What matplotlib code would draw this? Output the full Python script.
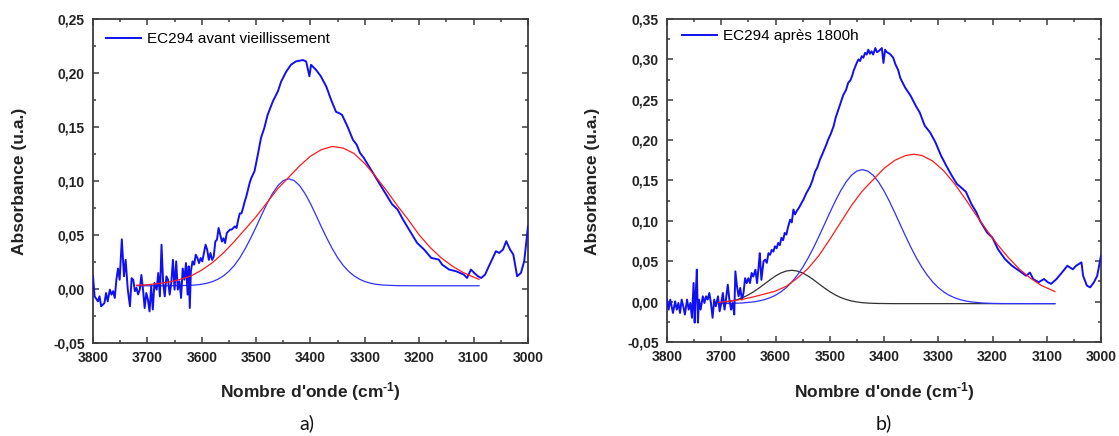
import matplotlib
matplotlib.use("Agg")
import matplotlib.pyplot as plt
from matplotlib.ticker import MultipleLocator, FuncFormatter

plt.rcParams['font.family'] = ['Liberation Sans', 'DejaVu Sans']
plt.rcParams['mathtext.fontset'] = 'custom'
plt.rcParams['mathtext.rm'] = 'Liberation Sans:bold'
plt.rcParams['mathtext.it'] = 'Liberation Sans:bold'
plt.rcParams['mathtext.bf'] = 'Liberation Sans:bold'

# ---------------- Data: panel a) ----------------
a_wn = [3800, 3797, 3791, 3788, 3785, 3779, 3776, 3773, 3769, 3766, 3763, 3760, 3757, 3754, 3751,
        3747, 3743, 3740, 3736, 3732, 3729, 3726, 3723, 3720, 3717, 3714, 3711, 3708, 3705, 3702,
        3699, 3696, 3693, 3690, 3687, 3683, 3680, 3677, 3674, 3671, 3668, 3665, 3662, 3659, 3656,
        3653, 3650, 3647, 3644, 3641, 3638, 3635, 3632, 3629, 3626, 3624, 3622, 3620, 3617, 3614,
        3611, 3608, 3605, 3602, 3599, 3596, 3593, 3590, 3587, 3584, 3581, 3578, 3575, 3572, 3569,
        3566, 3563, 3560, 3557, 3554, 3551, 3548, 3545, 3539, 3536, 3533, 3530, 3527, 3524, 3521,
        3518, 3515, 3512, 3509, 3503, 3497, 3491, 3485, 3479, 3469, 3460, 3454, 3445, 3436, 3427,
        3414, 3408, 3402, 3399, 3390, 3381, 3371, 3362, 3353, 3348,
        3342, 3332, 3322, 3315, 3309, 3302, 3289, 3276, 3263, 3250, 3240, 3230, 3217, 3204, 3191,
        3178, 3164, 3158, 3145, 3132, 3118, 3112, 3105, 3099, 3092, 3086, 3079, 3072, 3059, 3053,
        3046, 3040, 3033, 3027, 3020, 3013, 3007, 3000]
a_abs = [0.0117, -0.0068, -0.0114, -0.0068, -0.016, -0.013, -0.0037, -0.0114, -0.0006, -0.0052,
         -0.002, -0.0083, 0.0086, 0.019, 0.0086, 0.046, 0.0117, 0.027, -0.0006, -0.016,
         0.010, 0.0086, -0.002, 0.001, -0.005, -0.0006, 0.013, -0.0006, -0.0176, -0.0037,
         -0.0099, -0.0207, 0.0025, -0.019, 0.0056, -0.0006, 0.0148, -0.0068, 0.041, 0.0056,
         -0.0068, 0.0117, 0.0086, -0.0052, 0.0056, 0.027, -0.0006, 0.0256, -0.0006, 0.0071,
         -0.0083, 0.019, 0.0086, 0.024, -0.0052, 0.021, -0.0176, 0.0164, 0.0256, 0.0225,
         0.0318, 0.0287, 0.024, 0.0287, 0.0256, 0.0333, 0.041, 0.0364, 0.027, 0.0333,
         0.027, 0.030, 0.044, 0.0457, 0.0565, 0.0503, 0.044, 0.047, 0.0426, 0.0518,
         0.0534, 0.055, 0.055, 0.058, 0.0565, 0.064, 0.070, 0.070, 0.075, 0.081,
         0.0858, 0.092, 0.098, 0.1026, 0.109, 0.124, 0.140, 0.149, 0.161, 0.174,
         0.183, 0.192, 0.201, 0.2076, 0.2107, 0.212, 0.2107, 0.197, 0.2076, 0.203,
         0.197, 0.1875, 0.175, 0.164, 0.163,
         0.1612, 0.1505, 0.1382, 0.1336, 0.126, 0.1214, 0.1107, 0.100, 0.0893, 0.0785,
         0.0737, 0.0644, 0.0536, 0.0427, 0.0365, 0.0288, 0.0272, 0.0226, 0.018, 0.0164,
         0.0133, 0.0102, 0.018, 0.0149, 0.0118, 0.0102, 0.0133, 0.021, 0.035, 0.0334,
         0.0365, 0.0443, 0.0365, 0.0319, 0.0118, 0.0149, 0.0257, 0.058]

a_fit1_wn = [3720, 3690, 3660, 3640, 3630, 3620, 3610, 3600, 3590, 3580, 3570, 3560, 3550, 3540,
             3530, 3520, 3510, 3500, 3490, 3480, 3470, 3460, 3450, 3440, 3430, 3420, 3410, 3400,
             3390, 3380, 3370, 3360, 3350, 3340, 3330, 3320, 3310, 3300, 3290, 3280, 3270, 3260,
             3250, 3240, 3210, 3180, 3150, 3120, 3090]
a_fit1 = [0.0030, 0.0030, 0.0030, 0.0031, 0.0033, 0.0035, 0.0038, 0.0044, 0.0054, 0.0069, 0.0091,
          0.0122, 0.0164, 0.0219, 0.0289, 0.0374, 0.0471, 0.0575, 0.0685, 0.0790, 0.0883, 0.0957,
          0.1004, 0.1020, 0.1004, 0.0957, 0.0883, 0.0790, 0.0685, 0.0575, 0.0471, 0.0374, 0.0289,
          0.0219, 0.0164, 0.0122, 0.0091, 0.0069, 0.0054, 0.0044, 0.0038, 0.0035, 0.0033, 0.0031,
          0.0030, 0.0030, 0.0030, 0.0030, 0.0030]

a_fit2_wn = [3720, 3700, 3680, 3660, 3640, 3620, 3600, 3580, 3560, 3540, 3520, 3500, 3480, 3460,
             3440, 3420, 3400, 3380, 3360, 3340, 3320, 3300, 3280, 3260, 3240, 3220, 3200, 3180,
             3160, 3140, 3120, 3100, 3090]
a_fit2 = [0.0035, 0.0040, 0.0050, 0.0065, 0.0088, 0.0120, 0.0175, 0.0245, 0.0335, 0.0440, 0.0555,
          0.0670, 0.0800, 0.0930, 0.1035, 0.1140, 0.1230, 0.1290, 0.1320, 0.1305, 0.1255, 0.1160,
          0.1040, 0.0910, 0.0770, 0.0640, 0.0500, 0.0385, 0.0290, 0.0215, 0.0155, 0.0110, 0.0090]

# ---------------- Data: panel b) ----------------
b_wn = [3800, 3797, 3794, 3789, 3785, 3782, 3779, 3776, 3773, 3770, 3767, 3763, 3760, 3757, 3754,
        3751, 3749, 3747, 3745, 3743, 3741, 3738, 3734, 3731, 3728, 3725, 3722, 3719, 3716, 3713,
        3710, 3706, 3703, 3700, 3697, 3694, 3691, 3688, 3685, 3682, 3679, 3676, 3674, 3671, 3668,
        3665, 3662, 3659, 3656, 3653, 3650, 3647, 3644, 3641, 3637, 3634, 3631, 3629, 3626, 3622,
        3619, 3616, 3613, 3610, 3607, 3604, 3601, 3598, 3595, 3592, 3589, 3586, 3583, 3580, 3577,
        3573, 3570, 3567, 3564, 3561, 3557, 3552, 3548, 3543, 3540, 3536, 3532, 3527, 3523, 3518,
        3514, 3509, 3506, 3503, 3498, 3493, 3489, 3484, 3480, 3475, 3470, 3466, 3462, 3459, 3456,
        3453, 3450, 3447, 3444, 3441, 3438, 3435, 3432, 3429, 3426, 3423, 3420, 3416, 3413, 3410,
        3407, 3404, 3401, 3398, 3395, 3392, 3388, 3383, 3379, 3374, 3370, 3361, 3351, 3341, 3334,
        3325, 3315, 3305, 3295, 3285, 3275, 3266, 3259, 3249, 3239, 3230, 3223, 3210, 3200, 3190,
        3177, 3164, 3151, 3138, 3131, 3125, 3115, 3105, 3098, 3092, 3082, 3072, 3062, 3052, 3046,
        3036, 3033, 3026, 3020, 3013, 3007, 3000]
b_abs = [0.0025, -0.0099, 0.0025, -0.014, 0.0004, -0.0099, -0.0017, -0.014, 0.0025, -0.0058,
         -0.016, 0.0025, -0.0099, -0.0017, -0.020, 0.0231, -0.026, 0.0107, 0.0396, -0.026,
         0.0025, -0.0099, 0.0066, -0.0017, 0.0066, 0.0025, 0.0107, -0.0017, -0.020, 0.0025,
         -0.0058, 0.0066, -0.012, -0.0017, 0.0107, -0.0099, 0.0045, 0.021, 0.0025, -0.0099,
         -0.0017, -0.016, 0.0375, 0.019, 0.0066, 0.017, 0.0025, 0.0107, 0.029, 0.023,
         0.029, 0.023, 0.0355, 0.031, 0.0396, 0.023, 0.044, 0.060, 0.027, 0.050,
         0.052, 0.048, 0.060, 0.058, 0.064, 0.062, 0.0685, 0.066, 0.0727, 0.070,
         0.079, 0.076, 0.085, 0.083, 0.092, 0.1015, 0.098, 0.114, 0.108, 0.112,
         0.116, 0.122, 0.127, 0.1346, 0.138, 0.143, 0.150, 0.161, 0.166, 0.176,
         0.182, 0.190, 0.195, 0.2006, 0.208, 0.217, 0.228, 0.238, 0.246, 0.256,
         0.262, 0.271, 0.274, 0.279, 0.286, 0.291, 0.296, 0.300, 0.298, 0.304,
         0.302, 0.308, 0.306, 0.312, 0.307, 0.310, 0.306, 0.314, 0.309, 0.310,
         0.312, 0.314, 0.2956, 0.312, 0.309, 0.308, 0.306, 0.302, 0.294, 0.287,
         0.277, 0.265, 0.255, 0.242, 0.234, 0.218, 0.2095, 0.197, 0.181, 0.168,
         0.156, 0.146, 0.142, 0.136, 0.121, 0.111, 0.100, 0.0856, 0.079, 0.065,
         0.0527, 0.0444, 0.0383, 0.032, 0.036, 0.028, 0.024, 0.028, 0.024, 0.022,
         0.028, 0.036, 0.0444, 0.040, 0.0444, 0.0486, 0.032, 0.0198, 0.0177, 0.024,
         0.032, 0.0568]

b_fit0_wn = [3705, 3690, 3680, 3670, 3660, 3650, 3640, 3630, 3620, 3610, 3600, 3590, 3580, 3570,
             3560, 3550, 3540, 3530, 3520, 3510, 3500, 3490, 3480, 3470, 3460, 3450, 3440, 3430,
             3420, 3410, 3380, 3300, 3200, 3085]
b_fit0 = [-0.0016, -0.0004, 0.0008, 0.0027, 0.0051, 0.0084, 0.0124, 0.0170, 0.0220, 0.0271, 0.0317,
          0.0355, 0.0379, 0.0388, 0.0379, 0.0355, 0.0317, 0.0271, 0.0220, 0.0170, 0.0124, 0.0084,
          0.0051, 0.0027, 0.0008, -0.0004, -0.0013, -0.0018, -0.0021, -0.0023, -0.0025, -0.0025,
          -0.0025, -0.0025]

b_fit1_wn = [3705, 3680, 3660, 3640, 3630, 3620, 3610, 3600, 3590, 3580, 3570, 3560, 3550, 3540,
             3530, 3520, 3510, 3500, 3490, 3480, 3470, 3460, 3450, 3440, 3430, 3420, 3410, 3400,
             3390, 3380, 3370, 3360, 3350, 3340, 3330, 3320, 3310, 3300, 3290, 3280, 3270, 3260,
             3250, 3240, 3220, 3200, 3180, 3085]
b_fit1 = [-0.0025, -0.0022, -0.0016, -0.0003, 0.0009, 0.0025, 0.0048, 0.0079, 0.0121, 0.0174,
          0.0242, 0.0325, 0.0423, 0.0538, 0.0667, 0.0807, 0.0953, 0.1100, 0.1242, 0.1371, 0.1481,
          0.1565, 0.1617, 0.1635, 0.1617, 0.1565, 0.1481, 0.1371, 0.1242, 0.1100, 0.0953, 0.0807,
          0.0667, 0.0538, 0.0423, 0.0325, 0.0242, 0.0174, 0.0121, 0.0079, 0.0048, 0.0025, 0.0009,
          -0.0003, -0.0016, -0.0022, -0.0024, -0.0025]

b_fit2_wn = [3705, 3680, 3660, 3640, 3620, 3600, 3580, 3560, 3540, 3520, 3500, 3480, 3460, 3440,
             3420, 3400, 3380, 3360, 3345, 3330, 3310, 3290, 3270, 3250, 3230, 3210, 3190, 3170,
             3150, 3130, 3110, 3090, 3085]
b_fit2 = [-0.0010, 0.0010, 0.0030, 0.0060, 0.0095, 0.0130, 0.0190, 0.0290, 0.0410, 0.0570, 0.0770,
          0.0980, 0.1190, 0.1370, 0.1510, 0.1650, 0.1750, 0.1810, 0.1825, 0.1810, 0.1740, 0.1620,
          0.1460, 0.1270, 0.1070, 0.0880, 0.0700, 0.0540, 0.0400, 0.0290, 0.0200, 0.0140, 0.0125]

a_legend = "EC294 avant vieillissement"
b_legend = "EC294 après 1800h"
xlabel = r"Nombre d'onde (cm$^{\text{-1}}$)"
ylabel = "Absorbance (u.a.)"

# ---------------- Figure ----------------
W, H = 1119, 436
fig = plt.figure(figsize=(W / 100, H / 100), dpi=100)

def px_axes(x0, x1, y0, y1):
    return fig.add_axes([x0 / W, 1 - y1 / H, (x1 - x0) / W, (y1 - y0) / H])

axA = px_axes(93, 528, 19, 343)
axB = px_axes(667, 1101, 19, 342)

SPEC = '#1010f2'
FITB = '#3030ff'
RED = '#ff1a1a'
BLK = '#303030'
SP = '#3c3c3c'

comma = FuncFormatter(lambda v, p: ("%.2f" % v).replace('.', ',').replace('-0,00', '0,00'))

def style(ax, ymin, ymax):
    ax.set_xlim(3800, 3000)
    ax.set_ylim(ymin, ymax)
    ax.xaxis.set_major_locator(MultipleLocator(100))
    ax.xaxis.set_minor_locator(MultipleLocator(50))
    ax.yaxis.set_major_locator(MultipleLocator(0.05))
    ax.yaxis.set_minor_locator(MultipleLocator(0.025))
    ax.yaxis.set_major_formatter(comma)
    for s in ax.spines.values():
        s.set_color(SP)
        s.set_linewidth(1.3)
    ax.tick_params(which='both', direction='in', top=True, right=True, color=SP, width=1.1)
    ax.tick_params(which='major', length=4.5)
    ax.tick_params(which='minor', length=2.5)
    ax.tick_params(axis='x', which='major', pad=6, labelsize=10, labelcolor='#222222')
    ax.tick_params(axis='y', which='major', pad=6, labelsize=10, labelcolor='#222222')
    for lab in ax.get_xticklabels() + ax.get_yticklabels():
        lab.set_fontweight('bold')

# Panel a
lA, = axA.plot(a_wn, a_abs, color=SPEC, lw=1.4, label=a_legend, zorder=3)
axA.plot(a_fit1_wn, a_fit1, color=FITB, lw=0.9, zorder=2)
axA.plot(a_fit2_wn, a_fit2, color=RED, lw=0.9, zorder=4)
style(axA, -0.05, 0.25)
axA.legend(handles=[lA], loc='center left', bbox_to_anchor=(0.03, 0.937), frameon=False,
           borderpad=0, borderaxespad=0, handlelength=2.3, handletextpad=0.4,
           prop={'family': 'Liberation Sans', 'size': 11})

# Panel b
lB, = axB.plot(b_wn, b_abs, color=SPEC, lw=1.4, label=b_legend, zorder=3)
axB.plot(b_fit0_wn, b_fit0, color=BLK, lw=0.9, zorder=2)
axB.plot(b_fit1_wn, b_fit1, color=FITB, lw=0.9, zorder=2)
axB.plot(b_fit2_wn, b_fit2, color=RED, lw=0.9, zorder=4)
style(axB, -0.05, 0.35)
axB.legend(handles=[lB], loc='center left', bbox_to_anchor=(0.034, 0.946), frameon=False,
           borderpad=0, borderaxespad=0, handlelength=2.3, handletextpad=0.4,
           prop={'family': 'Liberation Sans', 'size': 11})

# Axis titles
for cx in (310.5, 884):
    fig.text(cx / W, 1 - 392 / H, xlabel, ha='center', va='center', fontsize=12.5,
             fontweight='bold', color='#222222')
for lx in (20, 593):
    fig.text(lx / W, 1 - 181 / H, ylabel, ha='center', va='center', rotation=90,
             fontsize=12.5, fontweight='bold', color='#222222')

# Panel letters
fig.text(307 / W, 1 - 423 / H, 'a)', ha='center', va='center', fontsize=14,
         family=['Lato', 'DejaVu Sans'], color='#111111')
fig.text(884 / W, 1 - 423 / H, 'b)', ha='center', va='center', fontsize=14,
         family=['Lato', 'DejaVu Sans'], color='#111111')

fig.savefig('out.png', dpi=100)
